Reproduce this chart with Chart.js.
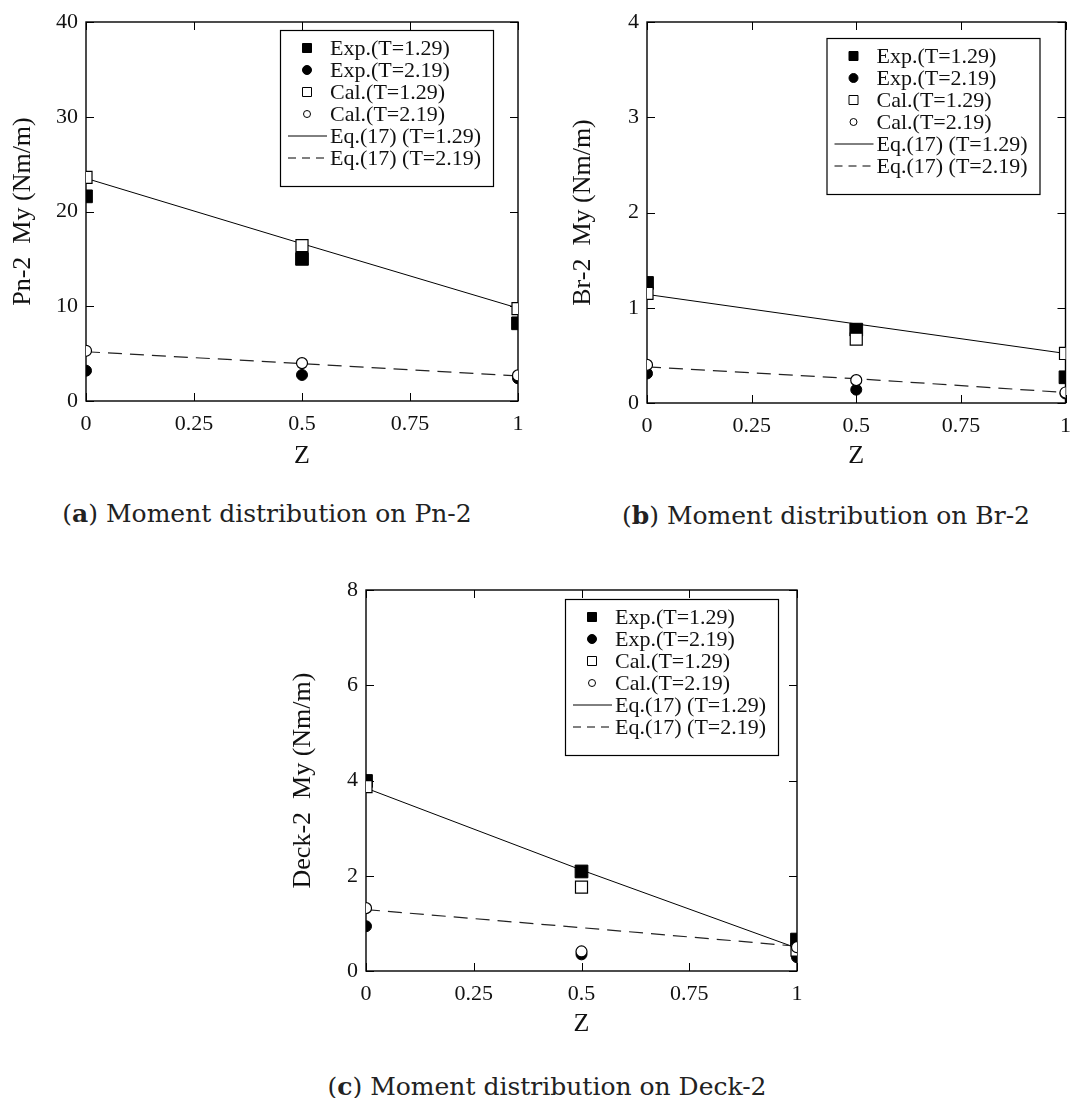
<!DOCTYPE html>
<html>
<head>
<meta charset="utf-8">
<script src="https://cdn.jsdelivr.net/npm/chart.js"></script>
<style>
  body { margin:0; background:#fff; width:1081px; height:1098px; position:relative; overflow:hidden; }
  canvas { position:absolute; }
  .cap { position:absolute; font-family:"DejaVu Serif", serif; font-size:25px; color:#222; white-space:nowrap; transform:translate(-50%,-50%); }
  .cap b { font-weight:bold; }
</style>
</head>
<body>
<canvas id="pn" width="540" height="480" style="left:0;top:0"></canvas>
<canvas id="br" width="521" height="480" style="left:560px;top:0"></canvas>
<canvas id="dk" width="540" height="480" style="left:280px;top:568px"></canvas>
<div class="cap" style="left:267px;top:513px">(<b>a</b>) Moment distribution on Pn-2</div>
<div class="cap" style="left:826px;top:515px">(<b>b</b>) Moment distribution on Br-2</div>
<div class="cap" style="left:547px;top:1086px">(<b>c</b>) Moment distribution on Deck-2</div>
<script>
// x positions (Z) and x tick labels
const zValues = [0, 0.5, 1];
const zTicks = [0, 0.25, 0.5, 0.75, 1];
const legendNames = ["Exp.(T=1.29)", "Exp.(T=2.19)", "Cal.(T=1.29)", "Cal.(T=2.19)", "Eq.(17) (T=1.29)", "Eq.(17) (T=2.19)"];

// (a) Pn-2
const pnTicks = [0, 10, 20, 30, 40];
const pnExp129 = [21.6, 15.0, 8.2];
const pnExp219 = [3.2, 2.75, 2.4];
const pnCal129 = [23.6, 16.4, 9.75];
const pnCal219 = [5.3, 4.0, 2.7];
const pnEq129 = [23.5, 16.6, 9.8];
const pnEq219 = [5.2, 3.95, 2.65];

// (b) Br-2
const brTicks = [0, 1, 2, 3, 4];
const brExp129 = [1.26, 0.77, 0.27];
const brExp219 = [0.31, 0.14, 0.1];
const brCal129 = [1.15, 0.67, 0.52];
const brCal219 = [0.40, 0.24, 0.11];
const brEq129 = [1.14, 0.83, 0.52];
const brEq219 = [0.38, 0.255, 0.11];

// (c) Deck-2
const dkTicks = [0, 2, 4, 6, 8];
const dkExp129 = [3.99, 2.09, 0.66];
const dkExp219 = [0.94, 0.35, 0.29];
const dkCal129 = [3.87, 1.76, 0.44];
const dkCal219 = [1.32, 0.41, 0.5];
const dkEq129 = [3.84, 2.12, 0.48];
const dkEq219 = [1.29, 0.91, 0.52];

const serifFont = "Liberation Serif";
Chart.defaults.font.family = serifFont;
Chart.defaults.color = "#111";

const pts = ys => zValues.map((z, i) => ({ x: z, y: ys[i] }));

const legendStyles = [
  { type: "point", style: "rect", r: 4.5, fill: "#000" },
  { type: "point", style: "circle", r: 4.5, fill: "#000" },
  { type: "point", style: "rect", r: 4.5, fill: "#fff" },
  { type: "point", style: "circle", r: 3.5, fill: "#fff" },
  { type: "line", dash: [] },
  { type: "line", dash: [8, 6] }
];

// inward ticks on all four sides + closed frame, legend box on top
const framePlugin = {
  id: "frame",
  beforeDatasetsDraw(chart) {
    const { ctx, chartArea: a, scales } = chart;
    const len = 8;
    ctx.save();
    ctx.strokeStyle = "#000";
    ctx.lineWidth = 1;
    scales.x.ticks.forEach(t => {
      const px = Math.round(scales.x.getPixelForValue(t.value)) + 0.5;
      ctx.beginPath();
      ctx.moveTo(px, a.bottom); ctx.lineTo(px, a.bottom - len);
      ctx.moveTo(px, a.top); ctx.lineTo(px, a.top + len);
      ctx.stroke();
    });
    scales.y.ticks.forEach(t => {
      const py = Math.round(scales.y.getPixelForValue(t.value)) + 0.5;
      ctx.beginPath();
      ctx.moveTo(a.left, py); ctx.lineTo(a.left + len, py);
      ctx.moveTo(a.right, py); ctx.lineTo(a.right - len, py);
      ctx.stroke();
    });
    ctx.lineWidth = 1.4;
    ctx.strokeRect(a.left, a.top, a.right - a.left, a.bottom - a.top);
    ctx.restore();
  },
  afterDatasetsDraw(chart) {
    const opts = chart.options.plugins.frame;
    const { ctx, chartArea: a } = chart;
    const w = 213, h = 156;
    const bx = a.right - opts.dx - w, by = a.top + opts.dy;
    ctx.save();
    ctx.fillStyle = "#fff";
    ctx.fillRect(bx, by, w, h);
    ctx.strokeStyle = "#000";
    ctx.lineWidth = 1.2;
    ctx.strokeRect(bx + 0.5, by + 0.5, w, h);
    ctx.font = "22px " + serifFont;
    ctx.textBaseline = "middle";
    legendNames.forEach((name, i) => {
      const cy = by + 18 + i * 22;
      const s = legendStyles[i];
      ctx.strokeStyle = "#000"; ctx.lineWidth = 1;
      if (s.type === "point") {
        ctx.fillStyle = s.fill;
        ctx.beginPath();
        if (s.style === "circle") ctx.arc(bx + 27, cy, s.r, 0, Math.PI * 2);
        else ctx.rect(bx + 27 - s.r, cy - s.r, s.r * 2, s.r * 2);
        ctx.fill(); ctx.stroke();
      } else {
        ctx.setLineDash(s.dash);
        ctx.beginPath(); ctx.moveTo(bx + 8, cy); ctx.lineTo(bx + 47, cy); ctx.stroke();
        ctx.setLineDash([]);
      }
      ctx.fillStyle = "#111";
      ctx.fillText(name, bx + 50, cy + 1);
    });
    ctx.restore();
  }
};

function makePanel(id, yTicks, yTitle, series, geo) {
  const [exp129, exp219, cal129, cal219, eq129, eq219] = series;
  new Chart(document.getElementById(id), {
    type: "scatter",
    data: {
      datasets: [
        { data: pts(eq129), showLine: true, borderColor: "#000", borderWidth: 1, pointRadius: 0, order: 5 },
        { data: pts(eq219), showLine: true, borderColor: "#222", borderWidth: 1.2, borderDash: [14, 8], pointRadius: 0, order: 4 },
        { data: pts(exp129), pointStyle: "rect", pointRadius: 9, backgroundColor: "#000", borderColor: "#000", borderWidth: 1, order: 3 },
        { data: pts(exp219), pointStyle: "circle", pointRadius: 5.5, backgroundColor: "#000", borderColor: "#000", borderWidth: 1, order: 2 },
        { data: pts(cal129), pointStyle: "rect", pointRadius: 8.5, backgroundColor: "#fff", borderColor: "#000", borderWidth: 1.2, order: 1 },
        { data: pts(cal219), pointStyle: "circle", pointRadius: 5.5, backgroundColor: "#fff", borderColor: "#000", borderWidth: 1.2, order: 0 }
      ]
    },
    options: {
      responsive: false,
      animation: false,
      devicePixelRatio: 1,
      layout: { autoPadding: false, padding: { top: 22, right: geo.right, left: 0, bottom: 0 } },
      plugins: { legend: { display: false }, tooltip: { enabled: false }, frame: { dx: geo.dx, dy: geo.dy } },
      scales: {
        x: {
          type: "linear", min: 0, max: 1,
          afterBuildTicks: s => { s.ticks = zTicks.map(v => ({ value: v })); },
          afterFit: s => { s.height = geo.xh; },
          grid: { display: false, drawTicks: false },
          border: { display: false },
          ticks: { font: { size: 22 }, padding: 10, maxRotation: 0, callback: v => String(v) },
          title: { display: true, text: "Z", font: { size: 26 }, padding: { top: 0, bottom: 8 } }
        },
        y: {
          type: "linear", min: yTicks[0], max: yTicks[yTicks.length - 1],
          afterBuildTicks: s => { s.ticks = yTicks.map(v => ({ value: v })); },
          afterFit: s => { s.width = geo.yw; },
          grid: { display: false, drawTicks: false },
          border: { display: false },
          ticks: { font: { size: 22 }, padding: 8, callback: v => String(v) },
          title: { display: true, text: yTitle, font: { size: 26 }, padding: { top: 8, bottom: 0 } }
        }
      }
    },
    plugins: [framePlugin]
  });
}

makePanel("pn", pnTicks, "Pn-2  My (Nm/m)",
  [pnExp129, pnExp219, pnCal129, pnCal219, pnEq129, pnEq219],
  { right: 22, yw: 86, xh: 79, dx: 25, dy: 8 });
makePanel("br", brTicks, "Br-2  My (Nm/m)",
  [brExp129, brExp219, brCal129, brCal219, brEq129, brEq219],
  { right: 3, yw: 87, xh: 77, dx: 26, dy: 16 });
makePanel("dk", dkTicks, "Deck-2  My (Nm/m)",
  [dkExp129, dkExp219, dkCal129, dkCal219, dkEq129, dkEq219],
  { right: 23, yw: 86, xh: 77, dx: 19, dy: 9 });
</script>
</body>
</html>
